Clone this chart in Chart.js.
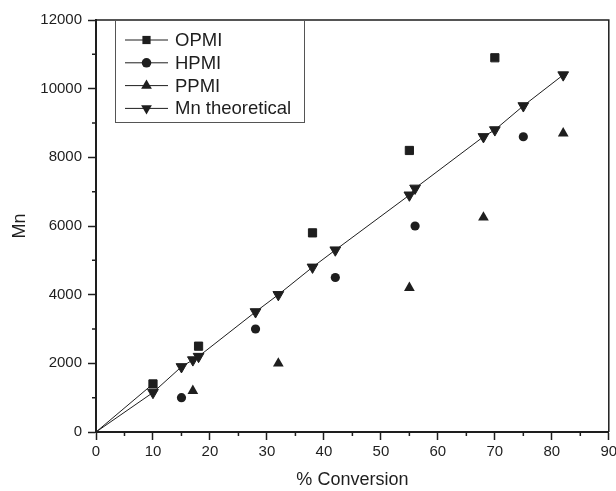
<!DOCTYPE html>
<html>
<head>
<meta charset="utf-8">
<script src="https://cdn.jsdelivr.net/npm/chart.js"></script>
<style>
  html, body { margin: 0; padding: 0; background: #fff; }
  #wrap { width: 616px; height: 491px; }
</style>
</head>
<body>
<div id="wrap"><canvas id="mnChart"></canvas></div>
<script>
// values
const opmiX = [0, 10, 18, 38, 55, 70];
const opmiY = [0, 1400, 2500, 5800, 8200, 10900];
const hpmiX = [15, 28, 42, 56, 75];
const hpmiY = [1000, 3000, 4500, 6000, 8600];
const ppmiX = [17, 32, 55, 68, 82];
const ppmiY = [1200, 2000, 4200, 6250, 8700];
const theoX = [0, 10, 15, 17, 18, 28, 32, 38, 42, 55, 56, 68, 70, 75, 82];
const theoY = [0, 1150, 1900, 2100, 2200, 3500, 4000, 4800, 5300, 6900, 7100, 8600, 8800, 9500, 10400];

const xTicks = [0, 10, 20, 30, 40, 50, 60, 70, 80, 90];
const yTicks = [0, 2000, 4000, 6000, 8000, 10000, 12000];
const xMinor = [5, 15, 25, 35, 45, 55, 65, 75, 85];
const yMinor = [1000, 3000, 5000, 7000, 9000, 11000];

const ink = '#1e1e1e';
const fontFamily = '"Liberation Sans", Arial, sans-serif';

const toPoints = (xs, ys) => xs.map((x, i) => ({ x: x, y: ys[i] }));

// only the first segment of OPMI (from origin) is drawn as a line
const firstSegmentOnly = {
  borderColor: ctx => ctx.p0DataIndex === 0 ? ink : 'rgba(0,0,0,0)'
};

const frameAndMinor = {
  id: 'frameAndMinor',
  afterDraw(chart) {
    const { ctx, chartArea } = chart;
    const xs = chart.scales.x, ys = chart.scales.y;
    ctx.save();
    ctx.strokeStyle = ink;
    ctx.lineWidth = 1.5;
    ctx.beginPath();
    ctx.moveTo(chartArea.left, chartArea.top);
    ctx.lineTo(chartArea.right, chartArea.top);
    ctx.lineTo(chartArea.right, chartArea.bottom);
    ctx.stroke();
    ctx.beginPath();
    xMinor.forEach(v => {
      const px = xs.getPixelForValue(v);
      ctx.moveTo(px, chartArea.bottom);
      ctx.lineTo(px, chartArea.bottom + 4);
    });
    yMinor.forEach(v => {
      const py = ys.getPixelForValue(v);
      ctx.moveTo(chartArea.left - 4, py);
      ctx.lineTo(chartArea.left, py);
    });
    ctx.stroke();
    ctx.restore();
  }
};

const boxLegend = {
  id: 'boxLegend',
  afterDraw(chart) {
    const { ctx, chartArea } = chart;
    const left = chartArea.left + 19;
    const top = chartArea.top;
    const w = 189, h = 102;
    ctx.save();
    ctx.fillStyle = '#fff';
    ctx.fillRect(left, top, w, h);
    ctx.strokeStyle = '#555';
    ctx.lineWidth = 1;
    ctx.strokeRect(left + 0.5, top + 0.5, w, h);
    ctx.font = '18.5px ' + fontFamily;
    ctx.textBaseline = 'middle';
    chart.data.datasets.forEach((ds, i) => {
      const y = top + 20 + i * 22.8;
      ctx.strokeStyle = ink;
      ctx.lineWidth = 1;
      ctx.beginPath();
      ctx.moveTo(left + 10, y);
      ctx.lineTo(left + 53, y);
      ctx.stroke();
      ctx.fillStyle = ink;
      Chart.helpers.drawPoint(ctx, {
        pointStyle: ds.pointStyle,
        rotation: ds.rotation || 0,
        radius: ds.legendRadius,
        borderWidth: 0
      }, left + 31.5, y);
      ctx.fillStyle = ink;
      ctx.fillText(ds.label, left + 60, y + 1);
    });
    ctx.restore();
  }
};

new Chart(document.getElementById('mnChart'), {
  type: 'scatter',
  data: {
    datasets: [
      {
        label: 'OPMI',
        data: toPoints(opmiX, opmiY),
        pointStyle: 'rect',
        pointRadius: ctx => ctx.dataIndex === 0 ? 0 : 5.8,
        legendRadius: 5.8,
        backgroundColor: ink,
        borderColor: ink,
        borderWidth: 1,
        showLine: true,
        segment: firstSegmentOnly
      },
      {
        label: 'HPMI',
        data: toPoints(hpmiX, hpmiY),
        pointStyle: 'circle',
        pointRadius: 4.6,
        legendRadius: 4.8,
        backgroundColor: ink,
        borderColor: ink,
        borderWidth: 0
      },
      {
        label: 'PPMI',
        data: toPoints(ppmiX, ppmiY),
        pointStyle: 'triangle',
        pointRadius: 6.2,
        legendRadius: 6.2,
        backgroundColor: ink,
        borderColor: ink,
        borderWidth: 0
      },
      {
        label: 'Mn theoretical',
        data: toPoints(theoX, theoY),
        pointStyle: 'triangle',
        rotation: 180,
        pointRotation: 180,
        pointRadius: ctx => ctx.dataIndex === 0 ? 0 : 6.2,
        legendRadius: 6.2,
        backgroundColor: ink,
        borderColor: ink,
        borderWidth: 1,
        showLine: true
      }
    ]
  },
  options: {
    responsive: true,
    maintainAspectRatio: false,
    animation: false,
    layout: { padding: { top: 20, right: 5, left: 0, bottom: 0 } },
    plugins: {
      legend: { display: false },
      tooltip: { enabled: false }
    },
    scales: {
      x: {
        type: 'linear',
        min: 0,
        max: 90,
        afterBuildTicks: s => { s.ticks = xTicks.map(v => ({ value: v })); },
        afterFit: s => { s.height = 59; s.paddingLeft = 0; s.paddingRight = 0; },
        ticks: {
          color: ink,
          padding: 3,
          maxRotation: 0,
          autoSkip: false,
          callback: v => String(v),
          font: { family: fontFamily, size: 15 }
        },
        grid: { drawOnChartArea: false, tickLength: 8, tickColor: ink, tickWidth: 1.5 },
        border: { color: ink, width: 2 },
        title: {
          display: true,
          text: '% Conversion',
          color: ink,
          padding: { top: 4, bottom: 0 },
          font: { family: fontFamily, size: 18 }
        }
      },
      y: {
        type: 'linear',
        min: 0,
        max: 12000,
        afterBuildTicks: s => { s.ticks = yTicks.map(v => ({ value: v })); },
        afterFit: s => { s.width = 96; },
        ticks: {
          color: ink,
          padding: 6,
          autoSkip: false,
          callback: v => String(v),
          font: { family: fontFamily, size: 15 }
        },
        grid: { drawOnChartArea: false, tickLength: 8, tickColor: ink, tickWidth: 1.5 },
        border: { color: ink, width: 2 },
        title: {
          display: true,
          text: 'Mn',
          color: ink,
          padding: { top: 9, bottom: 0 },
          font: { family: fontFamily, size: 18 }
        }
      }
    }
  },
  plugins: [frameAndMinor, boxLegend]
});
</script>
</body>
</html>
